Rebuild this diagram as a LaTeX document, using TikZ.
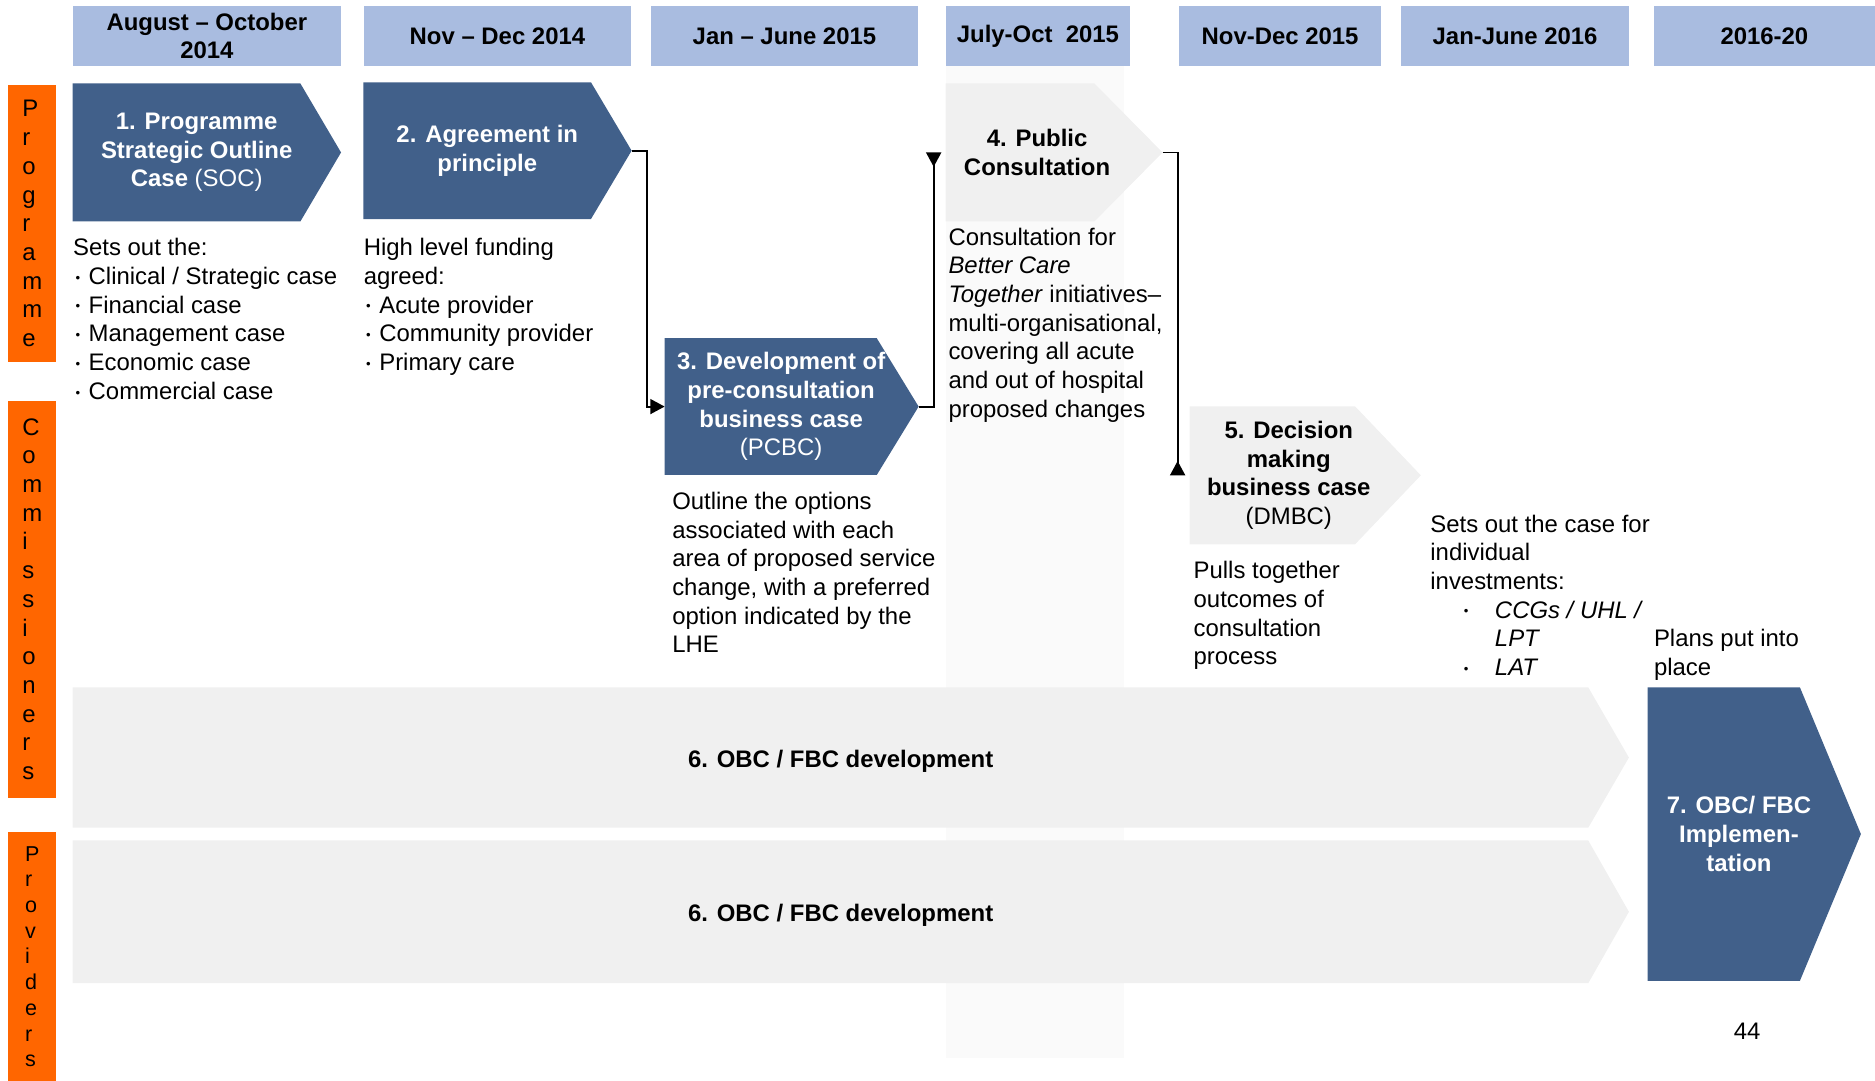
\documentclass[tikz,border=0pt]{standalone}
\usepackage{fontspec}
\setmainfont{Liberation Sans}
\usetikzlibrary{arrows.meta,backgrounds}

\definecolor{headblue}{RGB}{169,188,224}
\definecolor{stageblue}{RGB}{65,96,138}
\definecolor{stagegrey}{RGB}{240,240,240}
\definecolor{colgrey}{RGB}{250,250,250}
\definecolor{laneorange}{RGB}{255,102,0}

% chevron drawn behind a named node: #1 node, #2 pointer length, #3 colour
\newcommand{\chevron}[3]{%
  \fill[#3] (#1.north west) -- ([xshift=-#2/2]#1.north east)
    -- ([xshift=#2/2]#1.east) coordinate (#1-tip)
    -- ([xshift=-#2/2]#1.south east) -- (#1.south west) -- cycle;}
% small list bullet
\newcommand{\dotmark}{\raisebox{2pt}{\fontsize{11}{11}\selectfont •}}
\newcommand{\bul}{\hspace*{2pt}\makebox[11pt][l]{\dotmark}}

\begin{document}
\fontsize{20}{24}\selectfont
\begin{tikzpicture}[x=1pt,y=-1pt,
    period/.style={fill=headblue, inner sep=0, align=center, font=\bfseries},
    lane/.style={fill=laneorange, inner sep=0, minimum width=40, align=left},
    stage/.style={inner sep=0, align=center, font=\bfseries,
        execute at begin node={\rule{0pt}{20pt}}},
    note/.style={anchor=base west, inner sep=0, align=left}, % placed at the last baseline
    link/.style={line width=1.6pt, -{Triangle[width=12.5pt,length=12pt]}},
    backlink/.style={line width=1.6pt, -{Triangle[width=12.5pt,length=12pt,reversed]}}]
    \useasboundingbox (0,0) rectangle (1568,904);

    % Time periods
    \node[period, minimum width=224, minimum height=50] (p1) at (173,30) {August – October\\2014};
    \node[period, minimum width=224, minimum height=50] (p2) at (416,30) {Nov – Dec 2014};
    \node[period, minimum width=224, minimum height=50] (p3) at (656,30) {Jan – June 2015};
    \node[period, minimum width=154, minimum height=50] (p4) at (868,30) {July-Oct\ \ 2015};
    \node[period, minimum width=169, minimum height=50] (p5) at (1070.5,30) {Nov-Dec 2015};
    \node[period, minimum width=190, minimum height=50] (p6) at (1267,30) {Jan-June 2016};
    \node[period, minimum width=185, minimum height=50] (p7) at (1475.5,30) {2016-20};

    % Swim lane tags
    \node[lane, minimum height=232] (prog) at (27,187) {P\\r\\o\\g\\r\\a\\m\\m\\e};
    \node[lane, minimum height=332] (comm) at (27,501) {C\\o\\m\\m\\i\\s\\s\\i\\o\\n\\e\\r\\s};
    \node[lane, minimum height=208, font=\fontsize{18}{21.5}\selectfont] (prov) at (27,800)
        {P\\r\\o\\v\\i\\d\\e\\r\\s};

    % Stages
    \node[stage, text=white, minimum width=207, minimum height=115] (s1) at (164.5,127.5)
        {1. Programme\\Strategic Outline\\Case {\mdseries(SOC)}};
    \node[stage, text=white, minimum width=207, minimum height=114] (s2) at (407.5,126)
        {2. Agreement in\\principle};
    \node[stage, text=white, minimum width=194.5, minimum height=114] (s3) at (653.25,340)
        {3. Development of\\pre-consultation\\business case\\{\mdseries(PCBC)}};
    \node[stage, minimum width=152.5, minimum height=115] (s4) at (867.25,127.5)
        {4. Public\\Consultation};
    \node[stage, minimum width=165.5, minimum height=115] (s5) at (1077.75,397.5)
        {5. Decision\\making\\business case\\{\mdseries(DMBC)}};
    \node[stage, minimum width=1284, minimum height=117] (s6a) at (703,633.5)
        {6. OBC / FBC development};
    \node[stage, minimum width=1284, minimum height=119] (s6b) at (703,762.5)
        {6. OBC / FBC development};
    \node[stage, text=white, minimum width=152.5, minimum height=245] (s7) at (1454.25,697.5)
        {7. OBC/ FBC\\Implemen-\\tation};

    \begin{scope}[on background layer]
        % July-Oct column shading
        \fill[colgrey] (791,55) rectangle (940,885);
        \chevron{s1}{34}{stageblue}
        \chevron{s2}{34}{stageblue}
        \chevron{s3}{35}{stageblue}
        \chevron{s4}{57}{stagegrey}
        \chevron{s5}{55}{stagegrey}
        \chevron{s6a}{34}{stagegrey}
        \chevron{s6b}{34}{stagegrey}
        \chevron{s7}{51}{stageblue}
    \end{scope}

    % Notes under the stages
    \node[note] (n1) at (61,334) {Sets out the:\\\bul Clinical / Strategic case\\\bul Financial case\\%
        \bul Management case\\\bul Economic case\\\bul Commercial case};
    \node[note] (n2) at (304,310) {High level funding\\agreed:\\\bul Acute provider\\%
        \bul Community provider\\\bul Primary care};
    \node[note] (n3) at (562,546) {Outline the options\\associated with each\\area of proposed service\\%
        change, with a preferred\\option indicated by the\\LHE};
    \node[note] (n4) at (793,349) {Consultation for\\\textit{Better Care}\\\textit{Together} initiatives–\\%
        multi-organisational,\\covering all acute\\and out of hospital\\proposed changes};
    \node[note] (n5) at (998,556) {Pulls together\\outcomes of\\consultation\\process};
    \node[note] (n6) at (1196,565) {Sets out the case for\\individual\\investments:\\%
        \hspace*{28pt}\makebox[26pt][l]{\dotmark}\textit{CCGs / UHL /}\\\hspace*{54pt}\textit{LPT}\\%
        \hspace*{28pt}\makebox[26pt][l]{\dotmark}\textit{LAT}};
    \node[note] (n7) at (1383,565) {Plans put into\\place};

    % Hand-offs
    \draw[link] (s2-tip) -- ++(13,0) |- (s3.west);
    \draw[backlink] (s3-tip) -| ([xshift=-10]s4.west);
    \draw[backlink] (s4-tip) -| ([xshift=-10]s5.west);

    \node (page) at (1461,862) {44};
\end{tikzpicture}
\end{document}
